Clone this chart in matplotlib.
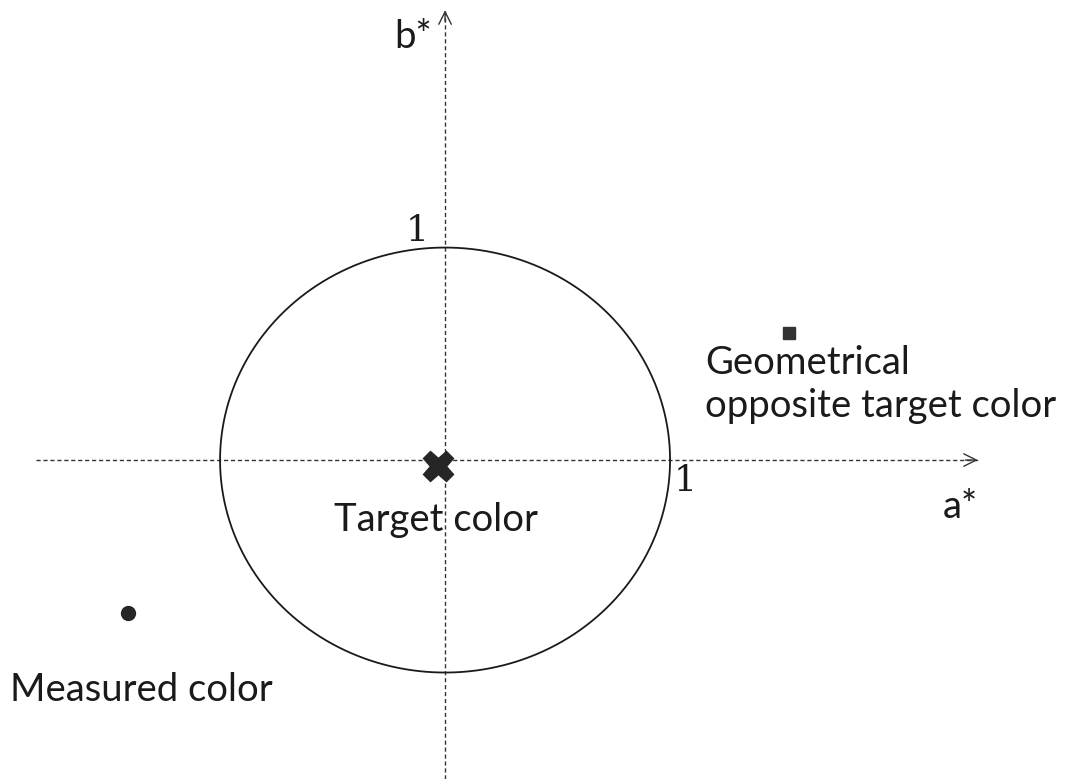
import numpy as np
import matplotlib
matplotlib.use("Agg")
import matplotlib.pyplot as plt

plt.rcParams['font.family'] = ['Lato', 'DejaVu Sans']

# points in the a*/b* plane (circle radius = 1)
target = (-0.03, -0.03)
measured = (-1.41, -0.72)
opposite = (1.53, 0.60)
radius = 1.0

labels = {
    'target': "Target color",
    'measured': "Measured color",
    'opposite': "Geometrical\nopposite target color",
}

ink = '#1a1a1a'

fig = plt.figure(figsize=(10.69, 7.79), dpi=100)
ax = fig.add_axes([0, 0, 1, 1])
ax.set_xlim(-1.978, 2.773)
ax.set_ylim(-1.501, 2.165)
ax.axis('off')

# axes lines (dashed) with open arrow heads
ax.plot([-1.82, 2.37], [0, 0], ls=(0, (3, 2)), color='#333333', lw=1.0)
ax.plot([0, 0], [-1.50, 2.12], ls=(0, (3, 2)), color='#333333', lw=1.0)
ax.annotate('', xy=(2.38, 0), xytext=(2.30, 0),
            arrowprops=dict(arrowstyle='->,head_length=0.9,head_width=0.45', color='#333333', lw=1.0))
ax.annotate('', xy=(0, 2.13), xytext=(0, 2.05),
            arrowprops=dict(arrowstyle='->,head_length=0.9,head_width=0.45', color='#333333', lw=1.0))

# unit circle
t = np.linspace(0, 2 * np.pi, 400)
ax.plot(radius * np.cos(t), radius * np.sin(t), color=ink, lw=1.3)

# markers
ax.plot(*target, marker='X', ms=22, color='#262626', mec='#262626')
ax.plot(*measured, marker='o', ms=10, color='#262626')
ax.plot(*opposite, marker='s', ms=8, color='#333333')

fs = 27.5
ax.text(-0.06, 1.99, 'b*', fontsize=fs, ha='right', va='center', color=ink)
ax.text(2.29, -0.22, 'a*', fontsize=fs, ha='center', va='center', color=ink)
ax.text(-0.124, 1.08, '1', fontsize=26, ha='center', va='center', color=ink, family='DejaVu Serif')
ax.text(1.067, -0.10, '1', fontsize=26, ha='center', va='center', color=ink, family='DejaVu Serif')
ax.text(-0.04, -0.28, labels['target'], fontsize=fs, ha='center', va='center', color=ink)
ax.text(-1.933, -1.08, labels['measured'], fontsize=fs, ha='left', va='center', color=ink)
ax.text(1.156, 0.355, labels['opposite'], fontsize=fs, ha='left', va='center',
        color=ink, linespacing=1.25)

fig.savefig('out.png', dpi=100, facecolor='white')
